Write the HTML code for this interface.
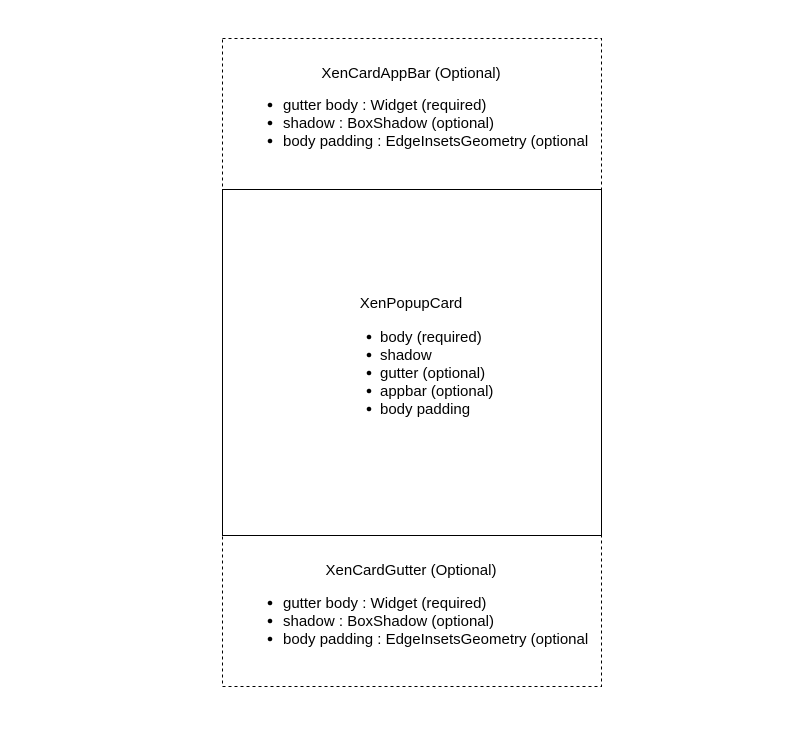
<!DOCTYPE html>
<html><head><style>body{margin:0;background:#fff}svg{display:block}</style></head><body>
<svg width="799" height="737" xmlns="http://www.w3.org/2000/svg" font-family="Liberation Sans, Arial, sans-serif" font-size="15" fill="#000">
<rect x="222.5" y="38.5" width="379" height="151" fill="none" stroke="#000" stroke-dasharray="3,3"/>
<rect x="222.5" y="189.5" width="379" height="346" fill="none" stroke="#000"/>
<rect x="222.5" y="535.5" width="379" height="151" fill="none" stroke="#000" stroke-dasharray="3,3"/>
<text x="411" y="78" text-anchor="middle">XenCardAppBar (Optional)</text>
<circle cx="270" cy="105" r="2.3"/><text x="283" y="110">gutter body : Widget (required)</text>
<circle cx="270" cy="123" r="2.3"/><text x="283" y="128">shadow : BoxShadow (optional)</text>
<circle cx="270" cy="141" r="2.3"/><text x="283" y="146">body padding : EdgeInsetsGeometry (optional</text>
<text x="411" y="308" text-anchor="middle">XenPopupCard</text>
<circle cx="369" cy="337" r="2.3"/><text x="380" y="342">body (required)</text>
<circle cx="369" cy="355" r="2.3"/><text x="380" y="360">shadow</text>
<circle cx="369" cy="373" r="2.3"/><text x="380" y="378">gutter (optional)</text>
<circle cx="369" cy="391" r="2.3"/><text x="380" y="396">appbar (optional)</text>
<circle cx="369" cy="409" r="2.3"/><text x="380" y="414">body padding</text>
<text x="411" y="575" text-anchor="middle">XenCardGutter (Optional)</text>
<circle cx="270" cy="603" r="2.3"/><text x="283" y="608">gutter body : Widget (required)</text>
<circle cx="270" cy="621" r="2.3"/><text x="283" y="626">shadow : BoxShadow (optional)</text>
<circle cx="270" cy="639" r="2.3"/><text x="283" y="644">body padding : EdgeInsetsGeometry (optional</text>
</svg>
</body></html>
